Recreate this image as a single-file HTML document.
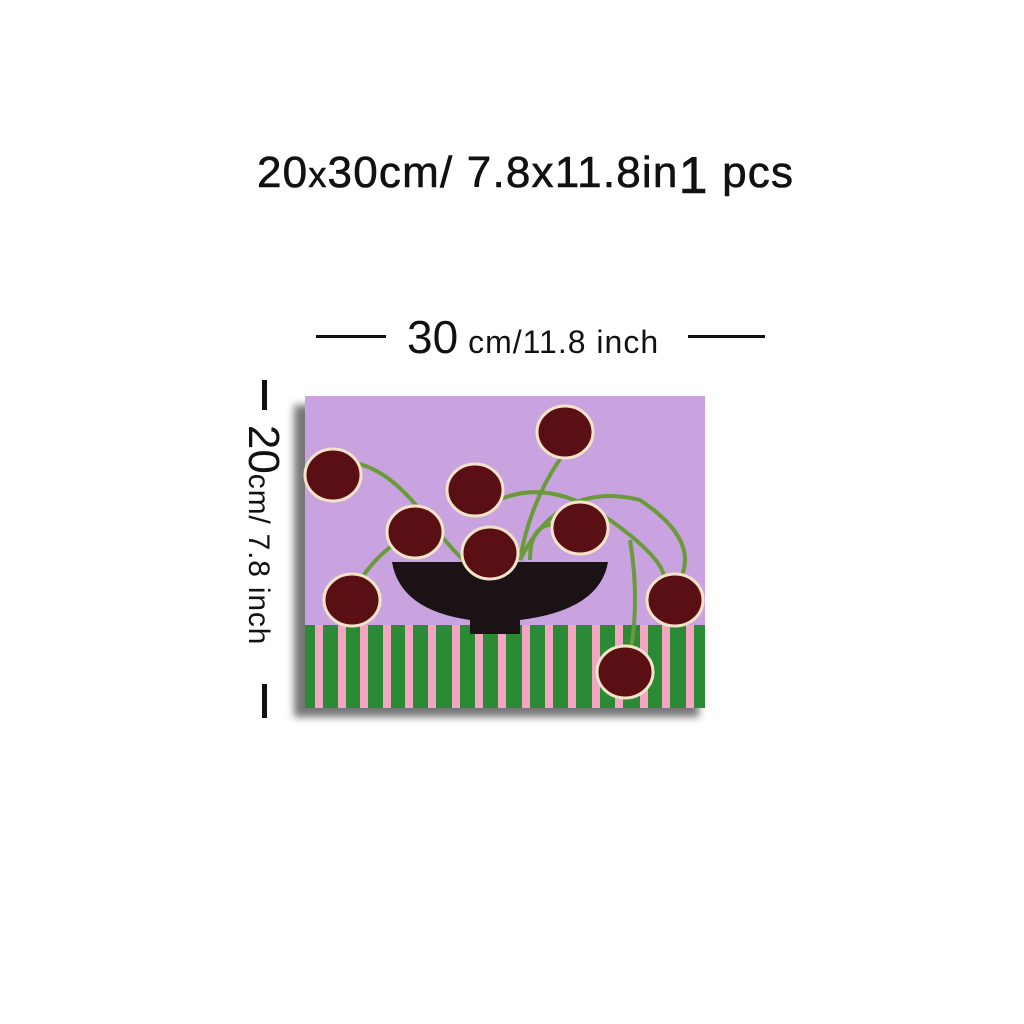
<!DOCTYPE html>
<html><head><meta charset="utf-8"><style>
html,body{margin:0;padding:0;background:#fff;width:1024px;height:1024px;overflow:hidden;font-family:"Liberation Sans",sans-serif}
.abs{position:absolute}
</style></head><body>
<div class="abs" style="left:257px;top:140px;font-size:44px;color:#111;white-space:nowrap;letter-spacing:1.2px;-webkit-text-stroke:0.6px #111">20<span style="font-size:36px">x</span>30cm/ 7.8x11.8in<span style="font-size:52px;position:relative;top:6px">1</span> pcs</div>
<div class="abs" style="left:316px;top:335px;width:70px;height:3px;background:#111"></div>
<div class="abs" style="left:688px;top:335px;width:77px;height:3px;background:#111"></div>
<div class="abs" style="left:407px;top:310px;white-space:nowrap;color:#111"><span style="font-size:46px">30</span><span style="font-size:32px;letter-spacing:1px"> cm/11.8 inch</span></div>
<div class="abs" style="left:262px;top:380px;width:5px;height:30px;background:#111"></div>
<div class="abs" style="left:262px;top:684px;width:5px;height:34px;background:#111"></div>
<div class="abs" style="left:263px;top:535px;transform:translate(-50%,-50%) rotate(90deg);white-space:nowrap;color:#111"><span style="font-size:44px">20</span><span style="font-size:30px;letter-spacing:0.8px">cm/ 7.8 inch</span></div>
<svg class="abs" style="left:0;top:0" width="1024" height="1024">
<defs><filter id="sh"><feGaussianBlur stdDeviation="4"/></filter></defs>
<rect x="294" y="405" width="405" height="312" fill="#555" filter="url(#sh)" opacity="0.8"/>
<rect x="305" y="396" width="400" height="312" fill="#c9a3e0"/>
<rect x="305" y="625" width="400" height="83" fill="#2a8a35"/>
<g id="stripes" fill="#f3a5c1"></g>
<g fill="none" stroke="#6a9a3a" stroke-width="4">
<path d="M340 462 Q380 460 420 510 T470 565"/>
<path d="M565 452 Q530 500 520 560"/>
<path d="M480 510 Q540 470 610 520 T660 590"/>
<path d="M520 560 Q560 480 640 500 Q700 540 680 580"/>
<path d="M560 525 Q530 520 530 560"/>
<path d="M400 540 Q370 560 355 590"/>
<path d="M630 540 Q640 600 630 655"/>
</g>
<path d="M392 562 L608 562 Q600 610 520 620 L520 634 L470 634 L470 620 Q400 610 392 562Z" fill="#1a1215"/>
<g id="flowers" fill="#5a0f15" stroke="#f3e3c8" stroke-width="3"></g>
</svg>
<script>
var stripeX=[315,338,360,383,405,428,452,475,498,522,545,568,592,615,640,662,686];
var g=document.getElementById('stripes');
stripeX.forEach(function(x){var r=document.createElementNS('http://www.w3.org/2000/svg','rect');
r.setAttribute('x',x);r.setAttribute('y',625);r.setAttribute('width',8);r.setAttribute('height',83);


g.appendChild(r);});
var fx=[333,565,475,415,580,490,352,675,625];
var fy=[475,432,490,532,528,553,600,600,672];
var f=document.getElementById('flowers');
fx.forEach(function(x,i){var c=document.createElementNS('http://www.w3.org/2000/svg','ellipse');
c.setAttribute('cx',x);c.setAttribute('cy',fy[i]);c.setAttribute('rx',28);c.setAttribute('ry',26);


f.appendChild(c);});
</script>
</body></html>
